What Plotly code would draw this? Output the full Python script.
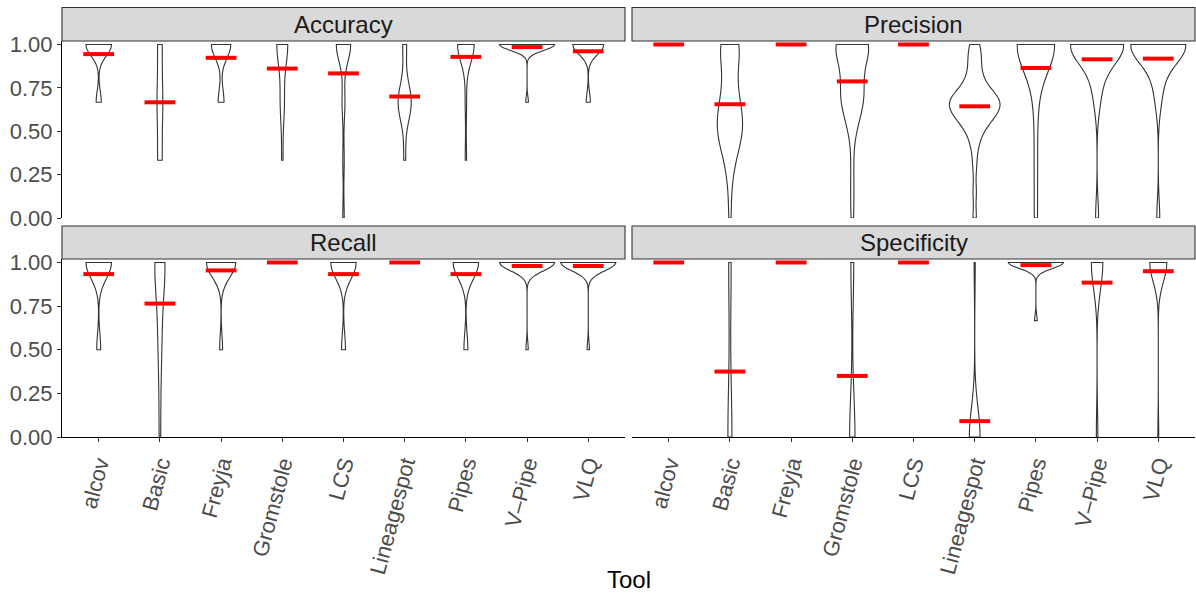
import numpy as np
import plotly.graph_objects as go

# ---------------- data ----------------
tools = ["alcov", "Basic", "Freyja", "Gromstole", "LCS", "Lineagespot", "Pipes", "V-Pipe", "VLQ"]
tick_labels = ["alcov", "Basic", "Freyja", "Gromstole", "LCS", "Lineagespot", "Pipes", "V\u2013Pipe", "VLQ"]
facets = ["Accuracy", "Precision", "Recall", "Specificity"]
y_tick_vals = [0.0, 0.25, 0.5, 0.75, 1.0]
y_tick_text = ["0.00", "0.25", "0.50", "0.75", "1.00"]

accuracy = {
    "alcov": [0.667, 0.667, 0.667, 1, 1, 1, 1, 1, 1, 1, 1, 1, 1, 1, 1, 1, 1, 1],
    "Basic": [0.333, 0.333, 0.333, 0.333, 0.667, 0.667, 0.667, 0.667, 0.667, 1, 1, 1, 1],
    "Freyja": [0.667, 0.667, 0.667, 1, 1, 1, 1, 1, 1, 1, 1, 1, 1],
    "Gromstole": [0.333, 0.667, 0.667, 0.667, 1, 1, 1, 1, 1, 1, 1, 1],
    "LCS": [0.0, 0.333, 0.667, 0.667, 1, 1, 1, 1, 1, 1, 1, 1, 1, 1],
    "Lineagespot": [0.333, 0.667, 0.667, 0.667, 0.667, 0.667, 0.667, 0.667, 1, 1],
    "Pipes": [0.333, 0.667, 1, 1, 1, 1, 1, 1, 1, 1, 1, 1, 1, 1],
    "V-Pipe": [0.667, 1, 1, 1, 1, 1, 1, 1, 1, 1, 1, 1, 1, 1, 1, 1, 1, 1, 1, 1, 1, 1],
    "VLQ": [0.667, 0.667, 1, 1, 1, 1, 1, 1, 1, 1, 1, 1, 1, 1, 1, 1, 1],
}
precision = {
    "alcov": [1, 1, 1, 1, 1, 1],
    "Basic": [1, 1, 1, 1, 1, 1, 1, 1, 0.9, 0.9, 0.8, 0.8, 0.75, 0.7, 0.67, 0.67, 0.63,
              0.6, 0.6, 0.57, 0.55, 0.55, 0.5, 0.5, 0.5, 0.5, 0.47, 0.45, 0.43, 0.4,
              0.35, 0.3, 0.2, 0.0],
    "Freyja": [1, 1, 1, 1, 1, 1],
    "Gromstole": [1, 1, 1, 1, 1, 1, 1, 1, 1, 1, 1, 1, 1, 1, 1, 0.95, 0.9, 0.85, 0.8, 0.8,
                  0.75, 0.75, 0.75, 0.7, 0.7, 0.7, 0.67, 0.67, 0.65, 0.6, 0.6, 0.55, 0.5,
                  0.3, 0.15, 0.0],
    "LCS": [1, 1, 1, 1, 1, 1],
    "Lineagespot": [1.0, 1.0, 0.95, 0.9, 0.9, 0.85, 0.8, 0.8, 0.75, 0.75, 0.75, 0.7, 0.7,
                    0.7, 0.7, 0.67, 0.67, 0.67, 0.67, 0.67, 0.65, 0.65, 0.63, 0.63, 0.6,
                    0.6, 0.6, 0.6, 0.57, 0.57, 0.55, 0.55, 0.5, 0.5, 0.45, 0.4, 0.3, 0.15,
                    0.0],
    "Pipes": [1, 1, 1, 1, 1, 1, 1, 1, 1, 1, 1, 1, 1, 0.8, 0.6, 0.3, 0.0],
    "V-Pipe": [1, 1, 1, 1, 1, 1, 1, 1, 1, 1, 1, 1, 1, 1, 1, 1, 1, 0.9, 0.8, 0.75, 0.67, 0.0],
    "VLQ": [1, 1, 1, 1, 1, 1, 1, 1, 1, 1, 1, 1, 1, 1, 1, 1, 1, 1, 0.9, 0.8, 0.75, 0.67, 0.0],
}
recall = {
    "alcov": [0.5, 0.5, 1, 1, 1, 1, 1, 1, 1, 1, 1, 1, 1, 1, 1],
    "Basic": [0.0, 0.25, 0.5, 0.5, 0.67, 0.75, 0.8, 1, 1, 1, 1, 1, 1, 1, 1],
    "Freyja": [0.5, 1, 1, 1, 1, 1, 1, 1, 1, 1, 1],
    "Gromstole": [1, 1, 1, 1, 1, 1],
    "LCS": [0.5, 0.5, 1, 1, 1, 1, 1, 1, 1, 1, 1, 1, 1, 1, 1],
    "Lineagespot": [1, 1, 1, 1, 1, 1],
    "Pipes": [0.5, 0.5, 1, 1, 1, 1, 1, 1, 1, 1, 1, 1, 1, 1, 1],
    "V-Pipe": [0.5, 1, 1, 1, 1, 1, 1, 1, 1, 1, 1, 1, 1, 1, 1, 1, 1, 1, 1, 1, 1, 1, 1, 1, 1],
    "VLQ": [0.5, 1, 1, 1, 1, 1, 1, 1, 1, 1, 1, 1, 1, 1, 1, 1, 1, 1, 1, 1, 1, 1, 1, 1, 1],
}
specificity = {
    "alcov": [1, 1, 1, 1, 1, 1],
    "Basic": [0, 0, 0, 0, 0, 1, 1, 1],
    "Freyja": [1, 1, 1, 1, 1, 1],
    "Gromstole": [0, 0, 0, 0, 0, 0, 0, 0, 0, 0, 0, 0, 0, 1, 1, 1, 1, 1, 1, 1],
    "LCS": [1, 1, 1, 1, 1, 1],
    "Lineagespot": [0, 0, 0, 0, 0, 0, 0, 0, 0, 0, 1],
    "Pipes": [0.667, 1, 1, 1, 1, 1, 1, 1, 1, 1, 1, 1, 1, 1, 1, 1, 1, 1, 1, 1, 1, 1],
    "V-Pipe": [0, 0, 0, 1, 1, 1, 1, 1, 1, 1, 1, 1, 1, 1, 1, 1, 1, 1, 1, 1, 1, 1, 1, 1, 1, 1],
    "VLQ": [0, 1, 1, 1, 1, 1, 1, 1, 1, 1, 1, 1, 1, 1, 1, 1, 1, 1, 1, 1],
}
metric_data = [accuracy, precision, recall, specificity]

# ---------------- helpers (ggplot-like violin scaling) ----------------
def bw_nrd0(v):
    v = np.asarray(v, float)
    hi = v.std(ddof=1)
    q75, q25 = np.percentile(v, [75, 25])
    lo = min(hi, (q75 - q25) / 1.34)
    if lo == 0:
        lo = hi
    return 0.9 * lo * len(v) ** -0.2


def peak_density(v, bw):
    v = np.asarray(v, float)
    grid = np.linspace(v.min(), v.max(), 512)
    d = np.exp(-0.5 * ((grid[:, None] - v[None, :]) / bw) ** 2).sum(1)
    return (d / (len(v) * bw * np.sqrt(2 * np.pi))).max()


# ---------------- layout geometry ----------------
W, H = 1196, 596
col_px = [(62, 625), (632, 1195)]
row_px = [(41, 218), (259, 437)]      # plot areas (top, bottom) in px
strip_px = [(7.5, 41), (226, 259)]
panel_pos = [(0, 0), (0, 1), (1, 0), (1, 1)]  # (row, col)

fig = go.Figure()
FONT = "Liberation Sans, Arial, Helvetica, sans-serif"
TICK_FONT = dict(size=22, color="#4D4D4D", family=FONT)
shapes, annotations = [], []
layout = {}

for k, (name, data) in enumerate(zip(facets, metric_data)):
    r, c = panel_pos[k]
    ax = "" if k == 0 else str(k + 1)
    xref, yref = "x" + ax, "y" + ax

    # ggplot scale="area": widths relative to the max density within the panel
    peaks, bws = {}, {}
    for t in tools:
        v = np.asarray(data[t], float)
        if v.max() > v.min():
            bws[t] = bw_nrd0(v)
            peaks[t] = peak_density(v, bws[t])
    pmax = max(peaks.values())

    for t in tools:
        v = data[t]
        if t not in peaks:
            continue
        fig.add_trace(go.Violin(
            x=[t] * len(v), y=v, xaxis=xref, yaxis=yref,
            bandwidth=bws[t], spanmode="hard", scalemode="width",
            width=0.9 * peaks[t] / pmax, points=False,
            box_visible=False, meanline_visible=False,
            line=dict(color="#333333", width=1.1), fillcolor="white",
            showlegend=False, hoverinfo="skip",
        ))

    means = [float(np.mean(data[t])) for t in tools]
    fig.add_trace(go.Scatter(
        x=tools, y=means, xaxis=xref, yaxis=yref, mode="markers",
        marker=dict(symbol="line-ew", size=22, color="red",
                    line=dict(color="red", width=4)),
        cliponaxis=False, showlegend=False, hoverinfo="skip",
    ))

    x0, x1 = col_px[c]
    y0, y1 = row_px[r]
    bottom = r == 1
    left = c == 0
    layout["xaxis" + ax] = dict(
        domain=[x0 / W, x1 / W], anchor=yref, type="category",
        categoryorder="array", categoryarray=tools, range=[-0.6, 8.6],
        tickvals=tools, ticktext=tick_labels,
        showticklabels=bottom, showline=bottom, ticks="outside" if bottom else "",
        ticklen=4, tickwidth=1.1, tickcolor="#333333", linecolor="black", linewidth=1.1,
        tickangle=-75, tickfont=TICK_FONT,
        showgrid=False, zeroline=False, automargin=False, fixedrange=True,
    )
    layout["yaxis" + ax] = dict(
        domain=[1 - y1 / H, 1 - y0 / H], anchor=xref, range=[0, 1.02],
        tickvals=y_tick_vals, ticktext=y_tick_text,
        showticklabels=left, showline=left, ticks="outside" if left else "",
        ticklen=4, tickwidth=1.1, tickcolor="#333333", linecolor="black", linewidth=1.1,
        tickfont=TICK_FONT,
        showgrid=False, zeroline=False, automargin=False, fixedrange=True,
    )

    s0, s1 = strip_px[r]
    shapes.append(dict(type="rect", xref="paper", yref="paper",
                       x0=x0 / W, x1=x1 / W, y0=1 - s1 / H, y1=1 - s0 / H,
                       fillcolor="#D9D9D9", line=dict(color="#333333", width=1.1),
                       layer="below"))
    annotations.append(dict(text=name, xref="paper", yref="paper",
                            x=(x0 + x1) / 2 / W, y=1 - (s0 + s1) / 2 / H,
                            showarrow=False, xanchor="center", yanchor="middle",
                            font=dict(size=24, color="#1A1A1A", family=FONT)))

annotations.append(dict(text="Tool", xref="paper", yref="paper",
                        x=(62 + 1195) / 2 / W, y=1 - 579 / H, showarrow=False,
                        xanchor="center", yanchor="middle",
                        font=dict(size=24, color="black", family=FONT)))

fig.update_layout(
    width=W, height=H, autosize=False,
    margin=dict(l=0, r=0, t=0, b=0),
    paper_bgcolor="white", plot_bgcolor="white",
    violinmode="overlay", showlegend=False,
    shapes=shapes, annotations=annotations,
    font=dict(family=FONT),
    **layout,
)

fig.write_html("out.html", config={"displayModeBar": False},
               post_script="document.body.style.margin='0px';")
